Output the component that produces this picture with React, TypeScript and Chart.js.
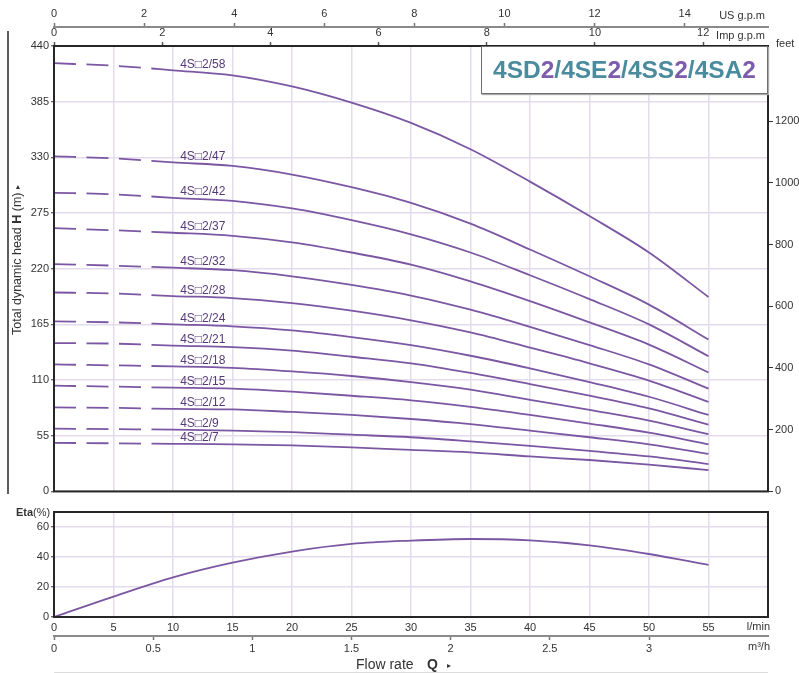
import React, { useEffect, useRef } from 'react';
import { Chart, registerables } from 'chart.js';
Chart.register(...registerables);

// ---- Data ----
const Q_LPM = [0, 5, 10, 15, 20, 25, 30, 35, 40, 45, 50, 55];
const MODELS = ['58', '47', '42', '37', '32', '28', '24', '21', '18', '15', '12', '9', '7'];
const HEAD_58 = [423, 420.5, 416, 411, 400, 384, 364, 338, 306, 272, 236, 192];
const HEAD_47 = [331, 329, 325, 321.5, 313, 300.5, 285, 264.5, 239, 212.5, 184.5, 150];
const HEAD_42 = [295, 293.5, 290, 287, 279.5, 268, 254, 236, 213.5, 190, 165, 133.5];
const HEAD_37 = [260, 258, 255.5, 252.5, 246, 236, 224, 207.5, 188, 167, 145, 117.5];
const HEAD_32 = [224.5, 223, 221, 218.5, 212.5, 204, 193.5, 179.5, 162.5, 144.5, 125.5, 101.5];
const HEAD_28 = [196.5, 195.5, 193, 191, 186, 178.5, 169, 157, 142, 126.5, 109.5, 88.5];
const HEAD_24 = [168, 167, 165, 163, 159, 152.5, 144.5, 134, 121.5, 108, 93.5, 75.5];
const HEAD_21 = [146.5, 146, 144, 142.5, 139, 133, 126.5, 117, 106, 94.5, 82, 66];
const HEAD_18 = [125.5, 124.5, 123.5, 122, 118.5, 114, 108, 100.5, 90.5, 80.5, 70, 56.5];
const HEAD_15 = [104.5, 103.5, 102.5, 101.5, 98.5, 94.5, 90, 83.5, 75.5, 67, 58, 46.5];
const HEAD_12 = [83, 82.5, 81.5, 81, 78.5, 75.5, 71.5, 66.5, 60, 53.5, 46.5, 37];
const HEAD_9 = [62, 61.5, 61, 60, 58.5, 56, 53.5, 49.5, 45, 40, 34.5, 27];
const HEAD_7 = [48, 47.5, 47, 46.5, 45.5, 43.5, 41, 38.5, 34.5, 31, 26.5, 21];
const HEADS = [HEAD_58, HEAD_47, HEAD_42, HEAD_37, HEAD_32, HEAD_28, HEAD_24, HEAD_21, HEAD_18, HEAD_15, HEAD_12, HEAD_9, HEAD_7];
const ETA = [0, 13.6, 26.4, 36.2, 43.6, 48.7, 50.9, 52, 51.1, 47.8, 42, 34.7];

// tick labels
const HEAD_TICKS = [0, 55, 110, 165, 220, 275, 330, 385, 440];
const FEET_TICKS = [0, 200, 400, 600, 800, 1000, 1200];
const US_GPM_TICKS = [0, 2, 4, 6, 8, 10, 12, 14];
const IMP_GPM_TICKS = [0, 2, 4, 6, 8, 10, 12];
const LPM_TICKS = [0, 5, 10, 15, 20, 25, 30, 35, 40, 45, 50, 55, 60];
const M3H_TICKS = [0, 0.5, 1, 1.5, 2, 2.5, 3];
const ETA_TICKS = [0, 10, 20, 30, 40, 50, 60, 70];

// unit conversions / ranges
const Q_MAX = 60;
const H_MAX = 440;
const ETA_MAX = 70;
const FT_PER_M = 1 / 0.3048;
const LPM_PER_USGPM = 3.78541;
const LPM_PER_IMPGPM = 4.54609;
const LPM_PER_M3H = 1000 / 60;
const LABEL_Q = 10.6;
const DASH_END_Q = 10;

// ---- styles ----
const FONT = '"Liberation Sans", Arial, Helvetica, sans-serif';
const LINE = '#7b57a3';
const GRID = '#e4dcec';
const TXT = '#333333';
const BORDER = '#262626';
const TEAL = '#4b8b9e';
const PURPLE = '#7d5cab';

const tickSet = (arr: number[]) => (axis: any) => {
  axis.ticks = arr.map((v) => ({ value: v }));
};
const plain = (v: any) => String(v);

const frame = {
  id: 'frame',
  afterDraw(chart: any) {
    const { ctx, chartArea: a } = chart;
    ctx.save();
    ctx.strokeStyle = BORDER;
    ctx.lineWidth = 2;
    ctx.strokeRect(a.left, a.top, a.right - a.left, a.bottom - a.top);
    ctx.restore();
  },
};

function drawParts(ctx: any, parts: { t: string; f: string }[], x: number, y: number, align: 'left' | 'center' | 'right') {
  let total = 0;
  const ws = parts.map((p) => {
    ctx.font = p.f;
    const w = ctx.measureText(p.t).width;
    total += w;
    return w;
  });
  let cx = align === 'left' ? x : align === 'center' ? x - total / 2 : x - total;
  ctx.textAlign = 'left';
  parts.forEach((p, i) => {
    ctx.font = p.f;
    ctx.fillText(p.t, cx, y);
    cx += ws[i];
  });
}

const mainDeco = {
  id: 'mainDeco',
  afterDraw(chart: any) {
    const { ctx, scales } = chart;
    const x = scales.x;
    const y = scales.y;
    ctx.save();
    // curve labels
    ctx.fillStyle = '#553a78';
    ctx.font = `12px ${FONT}`;
    ctx.textAlign = 'left';
    ctx.textBaseline = 'alphabetic';
    HEADS.forEach((h, i) => {
      ctx.fillText('4S\u25A12/' + MODELS[i], x.getPixelForValue(LABEL_Q), y.getPixelForValue(h[2]) - 2.5);
    });
    // unit labels
    ctx.fillStyle = TXT;
    ctx.textBaseline = 'middle';
    ctx.font = `11px ${FONT}`;
    ctx.textAlign = 'right';
    ctx.fillText('US g.p.m', 765, 16);
    ctx.fillText('Imp g.p.m', 765, 36);
    ctx.textAlign = 'left';
    ctx.fillText('feet', 776, 44);
    // left bracket line
    ctx.strokeStyle = BORDER;
    ctx.lineWidth = 1.5;
    ctx.beginPath();
    ctx.moveTo(8, 31);
    ctx.lineTo(8, 494);
    ctx.stroke();
    // y title
    ctx.translate(18, 260);
    ctx.rotate(-Math.PI / 2);
    ctx.textBaseline = 'middle';
    drawParts(
      ctx,
      [
        { t: 'Total dynamic head ', f: `12.5px ${FONT}` },
        { t: 'H', f: `bold 12.5px ${FONT}` },
        { t: ' (m) ', f: `12.5px ${FONT}` },
        { t: '\u25B8', f: `8px ${FONT}` },
      ],
      0,
      0,
      'center'
    );
    ctx.restore();
  },
};

const etaDeco = {
  id: 'etaDeco',
  afterDraw(chart: any) {
    const { ctx } = chart;
    ctx.save();
    ctx.fillStyle = TXT;
    ctx.textBaseline = 'middle';
    drawParts(ctx, [{ t: 'Eta', f: `bold 11px ${FONT}` }, { t: '(%)', f: `11px ${FONT}` }], 16, 13, 'left');
    ctx.font = `11px ${FONT}`;
    ctx.textAlign = 'right';
    ctx.fillText('l/min', 770, 127);
    ctx.fillText('m\u00B3/h', 770, 147);
    ctx.textAlign = 'left';
    ctx.font = `14px ${FONT}`;
    ctx.fillText('Flow rate', 356, 165);
    ctx.font = `bold 14px ${FONT}`;
    ctx.fillText('Q', 427, 165);
    ctx.font = `8px ${FONT}`;
    ctx.fillText('\u25B8', 447, 166);
    ctx.strokeStyle = '#dcdcdc';
    ctx.lineWidth = 1;
    ctx.beginPath();
    ctx.moveTo(54, 172.5);
    ctx.lineTo(768, 172.5);
    ctx.stroke();
    ctx.restore();
  },
};

export default function App() {
  const mainRef = useRef<HTMLCanvasElement | null>(null);
  const etaRef = useRef<HTMLCanvasElement | null>(null);

  useEffect(() => {
    Chart.defaults.font.family = FONT;
    Chart.defaults.font.size = 11;
    Chart.defaults.color = TXT;

    const tickFont = { size: 11, family: FONT };

    const main = new Chart(mainRef.current as HTMLCanvasElement, {
      type: 'line',
      data: {
        datasets: HEADS.map((h, i) => ({
          label: '4S\u25A12/' + MODELS[i],
          data: Q_LPM.map((q, j) => ({ x: q, y: h[j] })),
          borderColor: LINE,
          borderWidth: 1.8,
          pointRadius: 0,
          cubicInterpolationMode: 'monotone' as const,
          fill: false,
          segment: {
            borderDash: (c: any) => (c.p1.parsed.x <= DASH_END_Q ? [22, 10.5] : undefined),
          },
        })),
      },
      options: {
        responsive: false,
        animation: false,
        layout: { padding: 0 },
        plugins: { legend: { display: false }, tooltip: { enabled: false } },
        scales: {
          x: {
            type: 'linear',
            position: 'bottom',
            min: 0,
            max: Q_MAX,
            afterBuildTicks: tickSet(LPM_TICKS),
            ticks: { display: false },
            grid: { color: GRID, lineWidth: 1.5, drawTicks: false },
            border: { display: false },
            afterFit: (s: any) => { s.height = 4; },
          },
          xImp: {
            type: 'linear',
            position: 'top',
            weight: 0,
            min: 0,
            max: Q_MAX / LPM_PER_IMPGPM,
            afterBuildTicks: tickSet(IMP_GPM_TICKS),
            ticks: { font: tickFont, color: TXT, padding: 2, maxRotation: 0, callback: plain },
            grid: { drawOnChartArea: false, tickLength: 4, tickColor: '#555', tickWidth: 1.5 },
            border: { display: false },
            afterFit: (s: any) => { s.height = 19; },
          },
          xUS: {
            type: 'linear',
            position: 'top',
            weight: 1,
            min: 0,
            max: Q_MAX / LPM_PER_USGPM,
            afterBuildTicks: tickSet(US_GPM_TICKS),
            ticks: { font: tickFont, color: TXT, padding: 2, maxRotation: 0, callback: plain },
            grid: { drawOnChartArea: false, tickLength: 4, tickColor: '#777', tickWidth: 1.5 },
            border: { display: true, color: '#8a8a8a', width: 2 },
            afterFit: (s: any) => { s.height = 27; },
          },
          y: {
            type: 'linear',
            position: 'left',
            min: 0,
            max: H_MAX,
            afterBuildTicks: tickSet(HEAD_TICKS),
            ticks: { font: tickFont, color: TXT, padding: 2, callback: plain },
            grid: { color: GRID, lineWidth: 1.5, tickLength: 3, tickColor: '#333', tickWidth: 1 },
            border: { display: false },
            afterFit: (s: any) => { s.width = 54; },
          },
          yFeet: {
            type: 'linear',
            position: 'right',
            min: 0,
            max: H_MAX * FT_PER_M,
            afterBuildTicks: tickSet(FEET_TICKS),
            ticks: { font: tickFont, color: TXT, padding: 2, callback: plain },
            grid: { drawOnChartArea: false, tickLength: 5, tickColor: '#333', tickWidth: 1 },
            border: { display: false },
            afterFit: (s: any) => { s.width = 31; },
          },
        },
      } as any,
      plugins: [frame, mainDeco],
    });

    const eta = new Chart(etaRef.current as HTMLCanvasElement, {
      type: 'line',
      data: {
        datasets: [
          {
            label: 'Eta',
            data: Q_LPM.map((q, j) => ({ x: q, y: ETA[j] })),
            borderColor: LINE,
            borderWidth: 1.8,
            pointRadius: 0,
            cubicInterpolationMode: 'monotone' as const,
            fill: false,
          },
        ],
      },
      options: {
        responsive: false,
        animation: false,
        layout: { padding: { top: 12, right: 31, left: 0, bottom: 0 } },
        plugins: { legend: { display: false }, tooltip: { enabled: false } },
        scales: {
          x: {
            type: 'linear',
            position: 'bottom',
            weight: 0,
            min: 0,
            max: Q_MAX,
            afterBuildTicks: tickSet(LPM_TICKS),
            ticks: { font: tickFont, color: TXT, padding: 4, maxRotation: 0, callback: (v: any) => (v === Q_MAX ? '' : String(v)) },
            grid: { color: GRID, lineWidth: 1.5, drawTicks: false },
            border: { display: false },
            afterFit: (s: any) => { s.height = 19; },
          },
          xM3: {
            type: 'linear',
            position: 'bottom',
            weight: 1,
            min: 0,
            max: Q_MAX / LPM_PER_M3H,
            afterBuildTicks: tickSet(M3H_TICKS),
            ticks: { font: tickFont, color: TXT, padding: 2, maxRotation: 0, callback: plain },
            grid: { drawOnChartArea: false, tickLength: 4, tickColor: '#777', tickWidth: 1.5 },
            border: { display: true, color: '#8a8a8a', width: 2 },
            afterFit: (s: any) => { s.height = 37; },
          },
          y: {
            type: 'linear',
            position: 'left',
            min: 0,
            max: ETA_MAX,
            afterBuildTicks: tickSet(ETA_TICKS),
            ticks: { font: tickFont, color: TXT, padding: 2, callback: (v: any) => (v % 20 === 0 ? String(v) : '') },
            grid: { color: GRID, lineWidth: 1.5, tickLength: 3, tickColor: '#333', tickWidth: 1 },
            border: { display: false },
            afterFit: (s: any) => { s.width = 54; },
          },
        },
      } as any,
      plugins: [frame, etaDeco],
    });

    return () => {
      main.destroy();
      eta.destroy();
    };
  }, []);

  const seg = (t: string, c: string) => <span style={{ color: c }}>{t}</span>;

  return (
    <div style={{ position: 'absolute', left: 0, top: 0, width: 799, height: 673, background: '#fff', overflow: 'hidden' }}>
      <canvas ref={mainRef} width={799} height={500} style={{ position: 'absolute', left: 0, top: 0, display: 'block' }} />
      <canvas ref={etaRef} width={799} height={173} style={{ position: 'absolute', left: 0, top: 500, display: 'block' }} />
      <div
        style={{
          position: 'absolute',
          left: 481,
          top: 46,
          width: 287,
          height: 48,
          boxSizing: 'border-box',
          border: '1.5px solid #6e6e6e',
          boxShadow: '1px 1px 1px #aaa',
          background: '#fff',
          display: 'flex',
          alignItems: 'center',
          justifyContent: 'center',
          fontFamily: FONT,
          fontWeight: 'bold',
          fontSize: 24.5,
          lineHeight: 1,
          whiteSpace: 'nowrap',
        }}
      >
        {seg('4SD', TEAL)}
        {seg('2', PURPLE)}
        {seg('/4SE', TEAL)}
        {seg('2', PURPLE)}
        {seg('/4SS', TEAL)}
        {seg('2', PURPLE)}
        {seg('/4SA', TEAL)}
        {seg('2', PURPLE)}
      </div>
    </div>
  );
}
